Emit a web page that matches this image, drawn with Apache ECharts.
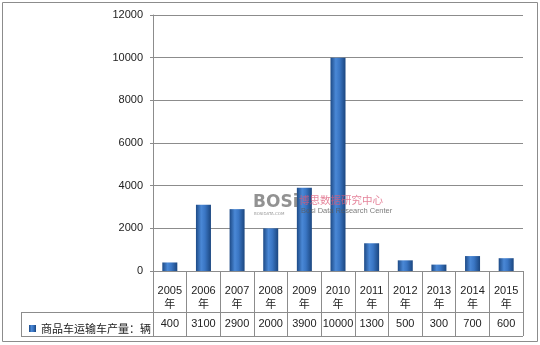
<!DOCTYPE html>
<html><head><meta charset="utf-8">
<script src="https://cdn.jsdelivr.net/npm/echarts@6/dist/echarts.min.js"></script>
<style>html,body{margin:0;padding:0;background:#fff}#c{width:540px;height:345px}</style>
</head><body><div id="c"></div>
<script>
const years = ['2005','2006','2007','2008','2009','2010','2011','2012','2013','2014','2015'];
const values = [400, 3100, 2900, 2000, 3900, 10000, 1300, 500, 300, 700, 600];
const seriesName = '商品车运输车产量：辆';
const yTicks = [0, 2000, 4000, 6000, 8000, 10000, 12000];

const FONT = '"Liberation Sans","Noto Sans CJK SC",sans-serif';
const chart = echarts.init(document.getElementById('c'), null, {renderer:'canvas'});
const barGrad = new echarts.graphic.LinearGradient(0,0,1,0,[
  {offset:0, color:'#1d4a86'},
  {offset:0.35, color:'#4a88d6'},
  {offset:0.6, color:'#3a76c4'},
  {offset:1, color:'#1b467f'}
]);
chart.setOption({
  animation:false,
  textStyle:{fontFamily:FONT},
  grid:{left:153, right:17, top:15, bottom:74},
  legend:{
    left:24, top:318, itemWidth:7, itemHeight:7, itemGap:4,
    icon:'rect',
    textStyle:{fontSize:11, color:'#222', fontFamily:'"Noto Sans CJK SC",sans-serif'},
    data:[seriesName]
  },
  xAxis:[{
    type:'category', data:years.map(y=>y+'\n年'), position:'bottom',
    axisLine:{lineStyle:{color:'#8c8c8c'}},
    axisTick:{show:true, length:65, lineStyle:{color:'#8c8c8c'}},
    axisLabel:{fontSize:11, color:'#222', lineHeight:14, margin:13, interval:0, fontFamily:FONT}
  },{
    type:'category', data:values.map(String), position:'bottom', offset:41,
    axisLine:{show:false}, axisTick:{show:false},
    axisLabel:{fontSize:11, color:'#222', margin:6, interval:0, fontFamily:FONT}
  }],
  yAxis:{
    type:'value', min:yTicks[0], max:yTicks[yTicks.length-1], interval:2000,
    axisLine:{show:true, lineStyle:{color:'#8c8c8c'}},
    axisTick:{show:true, length:3, lineStyle:{color:'#8c8c8c'}},
    splitLine:{lineStyle:{color:'#8c8c8c'}},
    axisLabel:{fontSize:11, color:'#222', margin:10, fontFamily:FONT, formatter:v=>String(v)}
  },
  series:[{
    name:seriesName, type:'bar', data:values, barWidth:15, xAxisIndex:0,
    itemStyle:{color:barGrad}
  }],
  graphic:[
    {type:'rect', shape:{x:2.5,y:2.5,width:535,height:339}, style:{fill:'none', stroke:'#8c8c8c', lineWidth:1}, silent:true},
    {type:'line', shape:{x1:21,y1:312.5,x2:523,y2:312.5}, style:{stroke:'#8c8c8c', lineWidth:1}},
    {type:'line', shape:{x1:21,y1:336.5,x2:523,y2:336.5}, style:{stroke:'#8c8c8c', lineWidth:1}},
    {type:'line', shape:{x1:21.5,y1:312,x2:21.5,y2:337}, style:{stroke:'#8c8c8c', lineWidth:1}},
    {type:'text', zlevel:1, z:100, left:253, top:194, style:{text:'BOSi', font:'bold 17px "DejaVu Sans"', fill:'rgba(110,110,110,0.75)'}},
    {type:'text', zlevel:1, z:100, left:254, top:212, style:{text:'BOSIDATA.COM', font:'4px "DejaVu Sans"', fill:'rgba(110,110,110,0.7)'}},
    {type:'text', zlevel:1, z:100, left:299, top:195, style:{text:'博思数据研究中心', font:'10.5px "Noto Sans CJK SC"', fill:'rgba(220,90,120,0.75)'}},
    {type:'text', zlevel:1, z:100, left:301, top:207, style:{text:'Bosi Data Research Center', font:'7.5px "Liberation Sans"', fill:'rgba(90,90,90,0.8)'}}
  ]
});
</script></body></html>
